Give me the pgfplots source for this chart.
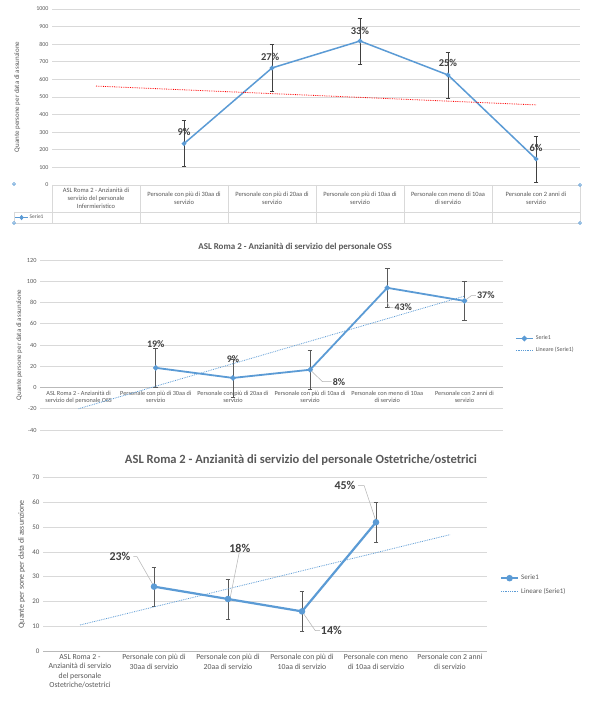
\documentclass[border=0pt]{standalone}
\usepackage{pgfplots}
\pgfplotsset{compat=1.18}
\usepackage{fontspec}
\setmainfont{Carlito}
\definecolor{sblue}{HTML}{5B9BD5}
\definecolor{gridc}{HTML}{D9D9D9}
\definecolor{tgray}{HTML}{595959}
\definecolor{lgray}{HTML}{404040}
\definecolor{ebar}{HTML}{595959}
\pgfplotsset{
 common/.style={
  scale only axis, clip=false,
  xmin=0.5, xmax=6.5, xtick={1,...,6},
  ymajorgrids, major grid style={gridc, line width=0.6bp},
  axis line style={draw=none},
  tick style={draw=none}, major tick length=0pt,
  /pgf/number format/assume math mode=true,
  /pgf/number format/1000 sep={},
  yticklabel style={color=tgray},
  xticklabel style={color=tgray, align=center},
  legend style={draw=none, fill=none, text=tgray},
  legend cell align=left,
  every axis title shift=0pt,
 },
 ebars/.style={error bars/.cd, y dir=both, y explicit,
   error bar style={color=#1, line width=0.6bp},
   error mark options={rotate=90, mark size=2.4bp, color=#1, line width=0.6bp}},
}
\begin{document}
\begin{tikzpicture}[x=1bp,y=1bp]
\path[use as bounding box, fill=white] (0,0) rectangle (597,701);

% ---------------- Chart 1 ----------------
\begin{axis}[common, at={(52bp,516bp)}, anchor=south west, width=528bp, height=176bp,
 ymin=0, ymax=1000, ytick={0,100,...,1000},
 yticklabel style={font=\fontsize{6}{7}\selectfont},
 xticklabel style={font=\fontsize{6.5}{8}\selectfont, anchor=center, yshift=-13.5bp},
 xticklabels={{ASL Roma 2 - Anzianità di\\servizio del personale\\Infermieristico},
  {Personale con più di 30aa di\\servizio},{Personale con più di 20aa di\\servizio},
  {Personale con più di 10aa di\\servizio},{Personale con meno di 10aa\\di servizio},
  {Personale con 2 anni di\\servizio}},
 ylabel={Quante persone per data di assunzione},
 ylabel style={at={(axis description cs:-0.066,0.5)}, anchor=center, font=\fontsize{7}{8}\selectfont, color=tgray},
 legend style={at={(axis description cs:-0.078,-0.185)}, anchor=west, font=\fontsize{5.5}{6}\selectfont,
   nodes={inner sep=0.5bp}},
 legend image post style={xscale=0.8},
]
\addplot[sblue, line width=1.5bp, mark=*, mark size=1.5bp, mark options={fill=sblue, draw=sblue}, ebars=lgray]
 coordinates {(2,235) +- (0,130) (3,665) +- (0,133) (4,818) +- (0,130) (5,625) +- (0,131) (6,148) +- (0,130)};
\addlegendentry{Serie1}
\addplot[red, densely dotted, line width=0.8bp, forget plot] coordinates {(1,562) (6,455)};
\begin{scope}[font=\bfseries\fontsize{10.5}{12}\selectfont, text=lgray]
\node at (axis cs:2,301) {9\%};
\node at (axis cs:2.98,727) {27\%};
\node at (axis cs:4,875) {33\%};
\node at (axis cs:5,693) {25\%};
\node at (axis cs:6,210) {6\%};
\end{scope}
\end{axis}
% data table lines
\begin{scope}[gridc, line width=0.6bp]
\draw (52,516) -- (580,516);
\draw (14,489) -- (580,489);
\draw (14,478) -- (580,478);
\foreach \xx in {52,140,228,316,404,492,580} {\draw (\xx,516) -- (\xx,478);}
\draw (14,489) -- (14,478);
\end{scope}
\foreach \p in {(14,517),(14,478),(580,516),(580,478)} {\draw[sblue, fill=sblue!40, line width=0.5bp] \p circle (1.6);}

% ---------------- Chart 2 ----------------
\begin{axis}[common, at={(40bp,271bp)}, anchor=south west, width=463bp, height=170bp,
 ymin=-40, ymax=120, ytick={-40,-20,...,120},
 yticklabel style={font=\fontsize{6.3}{7}\selectfont},
 xticklabel style={font=\fontsize{6.3}{7.6}\selectfont, anchor=north, yshift=42.5bp},
 xticklabels={{ASL Roma 2 - Anzianità di\\servizio del personale OSS},
  {Personale con più di 30aa di\\servizio},{Personale con più di 20aa di\\servizio},
  {Personale con più di 10aa di\\servizio},{Personale con meno di 10aa\\di servizio},
  {Personale con 2 anni di\\servizio}},
 title={ASL Roma 2 - Anzianità di servizio del personale OSS},
 title style={at={(axis description cs:0.551,1.076)}, anchor=center, font=\bfseries\fontsize{9}{10}\selectfont, color=tgray},
 ylabel={Quante persone per data di assunzione},
 ylabel style={at={(axis description cs:-0.045,0.5)}, anchor=center, font=\fontsize{7}{8}\selectfont, color=tgray},
 legend style={at={(axis description cs:1.019,0.503)}, anchor=west, font=\fontsize{6}{7}\selectfont, row sep=2bp},
]
\draw[gray!55, line width=0.6bp] (axis cs:0.5,0) -- (axis cs:6.5,0);
\addplot[sblue, line width=1.8bp, mark=*, mark size=1.7bp, mark options={fill=sblue, draw=sblue}, ebars=ebar]
 coordinates {(2,18.5) +- (0,18) (3,9) +- (0,18) (4,16.7) +- (0,18) (5,93.8) +- (0,18) (6,81.5) +- (0,18)};
\addlegendentry{Serie1}
\addplot[sblue, densely dotted, line width=0.8bp] coordinates {(1,-20) (6,86)};
\addlegendentry{Lineare (Serie1)}
\begin{scope}[gray!60, line width=0.5bp]
\draw (axis cs:4,16.7) -- (axis cs:4.16,5.5) -- (axis cs:4.28,5.5);
\draw (axis cs:5,80) -- (axis cs:5.03,75.5) -- (axis cs:5.08,75.5);
\draw (axis cs:6,81.5) -- (axis cs:6.09,86.5) -- (axis cs:6.15,86.5);
\end{scope}
\begin{scope}[font=\bfseries\fontsize{10}{12}\selectfont, text=lgray]
\node at (axis cs:2,40.5) {19\%};
\node at (axis cs:3,26.4) {9\%};
\node[anchor=west, inner sep=1bp] at (axis cs:4.28,5.5) {8\%};
\node[anchor=west, inner sep=1bp] at (axis cs:5.08,75.5) {43\%};
\node[anchor=west, inner sep=1bp] at (axis cs:6.15,86.5) {37\%};
\end{scope}
\end{axis}

% ---------------- Chart 3 ----------------
\begin{axis}[common, at={(43bp,50bp)}, anchor=south west, width=444bp, height=173.3bp,
 ymin=0, ymax=70, ytick={0,10,...,70},
 yticklabel style={font=\fontsize{7}{8}\selectfont},
 xticklabel style={font=\fontsize{7.8}{9.3}\selectfont, anchor=north},
 xticklabels={{ASL Roma 2 -\\Anzianità di servizio\\del personale\\Ostetriche/ostetrici},
  {Personale con più di\\30aa di servizio},{Personale con più di\\20aa di servizio},
  {Personale con più di\\10aa di servizio},{Personale con meno\\di 10aa di servizio},
  {Personale con 2 anni\\di servizio}},
 title={ASL Roma 2 - Anzianità di servizio del personale Ostetriche/ostetrici},
 title style={at={(axis description cs:0.581,1.102)}, anchor=center, font=\bfseries\fontsize{12.6}{14}\selectfont, color=tgray},
 ylabel={Quante per sone per data di assunzione},
 ylabel style={at={(axis description cs:-0.048,0.5)}, anchor=center, font=\fontsize{8}{9}\selectfont, color=tgray},
 legend style={at={(axis description cs:1.022,0.381)}, anchor=west, font=\fontsize{7}{8}\selectfont, row sep=3bp},
]
\draw[gray!55, line width=0.6bp] (axis cs:0.5,0) -- (axis cs:6.5,0);
\addplot[sblue, line width=2.2bp, mark=*, mark size=2.1bp, mark options={fill=sblue, draw=sblue}, ebars=ebar]
 coordinates {(2,26) +- (0,8) (3,21) +- (0,8) (4,16) +- (0,8) (5,52) +- (0,8)};
\addlegendentry{Serie1}
\addplot[sblue, densely dotted, line width=0.8bp] coordinates {(1,10.5) (6,47)};
\addlegendentry{Lineare (Serie1)}
\begin{scope}[gray!60, line width=0.5bp]
\draw (axis cs:1.72,38.1) -- (axis cs:1.77,38.1) -- (axis cs:1.99,26.6);
\draw (axis cs:3.15,39.5) -- (axis cs:3.03,21.6);
\draw (axis cs:4,16) -- (axis cs:4.18,8.2) -- (axis cs:4.24,8.2);
\draw (axis cs:4.76,66.8) -- (axis cs:4.84,66.8) -- (axis cs:5,52.4);
\end{scope}
\begin{scope}[font=\bfseries\fontsize{12}{14}\selectfont, text=lgray]
\node at (axis cs:1.54,38.1) {23\%};
\node at (axis cs:3.16,41.6) {18\%};
\node[anchor=west, inner sep=1bp] at (axis cs:4.24,8.2) {14\%};
\node at (axis cs:4.58,66.8) {45\%};
\end{scope}
\end{axis}
\end{tikzpicture}
\end{document}
